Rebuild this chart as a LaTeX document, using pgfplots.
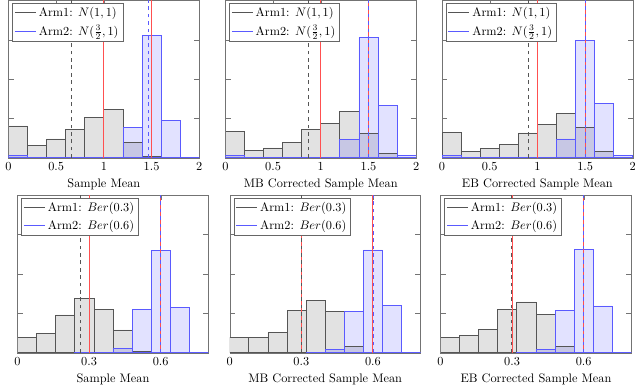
\documentclass[border=0pt]{standalone}
\usepackage{pgfplots}
\pgfplotsset{compat=1.18}

\definecolor{armgray}{RGB}{85,85,85}
\definecolor{armblue}{RGB}{90,90,255}
\definecolor{meanred}{RGB}{255,80,80}
\definecolor{grayfill}{RGB}{226,226,226}
\definecolor{bluefill}{RGB}{226,226,255}
\definecolor{bothfill}{RGB}{199,199,228}

\pgfplotsset{
  hist/.style={scale only axis, width=155pt, height=128pt,
    ymin=0, ymax=4, ytick={1,2,3}, yticklabels={,,},
    axis line style={black!55}, tick style={black!55},
    legend style={at={(0.02,0.985)}, anchor=north west, draw=black!60,
      inner sep=1.5pt, row sep=1.5pt},
    legend cell align=left},
  topx/.style={xmin=0, xmax=2, xtick={0,0.5,1,1.5,2}},
  botx/.style={xmin=0, xmax=0.8, xtick={0,0.3,0.6}},
  gfill/.style={ybar interval, fill=grayfill, draw=none},
  bfill/.style={ybar interval, fill=bluefill, draw=none},
  ofill/.style={ybar interval, fill=bothfill, draw=none},
  gline/.style={ybar interval, fill=none, draw=armgray, line width=0.6pt},
  bline/.style={ybar interval, fill=none, draw=armblue, line width=0.6pt},
  truemean/.style={meanred, line width=0.9pt},
  graymean/.style={armgray, dashed, line width=0.6pt},
  bluemean/.style={armblue, dashed, line width=0.6pt},
  grayleg/.style={armgray, line width=0.8pt},
  blueleg/.style={armblue, line width=0.8pt},
}

\begin{document}
\begin{tikzpicture}

% ---- top row: Gaussian arms ----
\begin{axis}[hist, topx, at={(2.4pt,182.4pt)}, xlabel={Sample Mean}]
  \addlegendimage{grayleg}
  \addlegendentry{Arm1: $N(1,1)$}
  \addlegendimage{blueleg}
  \addlegendentry{Arm2: $N(\frac{3}{2},1)$}
  \addplot[gfill] coordinates {(0,0.81) (0.2,0.31) (0.4,0.48) (0.6,0.72) (0.8,1.03) (1.0,1.23) (1.2,0.39) (1.4,0.03) (1.6,0) (1.8,0) (2,0)};
  \addplot[bfill] coordinates {(0,0.05) (0.2,0) (0.4,0) (0.6,0) (0.8,0) (1.0,0.02) (1.2,0.78) (1.4,3.11) (1.6,0.95) (1.8,0) (2,0)};
  \addplot[ofill] coordinates {(0,0.05) (0.2,0) (1.0,0.02) (1.2,0.39) (1.4,0.03) (1.6,0)};
  \addplot[gline] coordinates {(0,0.81) (0.2,0.31) (0.4,0.48) (0.6,0.72) (0.8,1.03) (1.0,1.23) (1.2,0.39) (1.4,0.03) (1.6,0) (1.8,0) (2,0)};
  \addplot[bline] coordinates {(0,0.05) (0.2,0) (0.4,0) (0.6,0) (0.8,0) (1.0,0.02) (1.2,0.78) (1.4,3.11) (1.6,0.95) (1.8,0) (2,0)};
  \addplot[truemean] coordinates {(1,0) (1,4)};
  \addplot[truemean] coordinates {(1.5,0) (1.5,4)};
  \addplot[graymean] coordinates {(0.66,0) (0.66,4)};
  \addplot[bluemean] coordinates {(1.47,0) (1.47,4)};
\end{axis}

\begin{axis}[hist, topx, at={(178.6pt,182.4pt)}, xlabel={MB Corrected Sample Mean}]
  \addlegendimage{grayleg}
  \addlegendentry{Arm1: $N(1,1)$}
  \addlegendimage{blueleg}
  \addlegendentry{Arm2: $N(\frac{3}{2},1)$}
  \addplot[gfill] coordinates {(0,0.68) (0.2,0.18) (0.4,0.25) (0.6,0.39) (0.8,0.71) (1.0,0.87) (1.2,1.18) (1.4,0.62) (1.6,0.12) (1.8,0) (2,0)};
  \addplot[bfill] coordinates {(0,0.05) (0.2,0) (0.4,0) (0.6,0) (0.8,0) (1.0,0) (1.2,0.46) (1.4,3.06) (1.6,1.33) (1.8,0.06) (2,0)};
  \addplot[ofill] coordinates {(0,0.05) (0.2,0) (1.2,0.46) (1.4,0.62) (1.6,0.12) (1.8,0)};
  \addplot[gline] coordinates {(0,0.68) (0.2,0.18) (0.4,0.25) (0.6,0.39) (0.8,0.71) (1.0,0.87) (1.2,1.18) (1.4,0.62) (1.6,0.12) (1.8,0) (2,0)};
  \addplot[bline] coordinates {(0,0.05) (0.2,0) (0.4,0) (0.6,0) (0.8,0) (1.0,0) (1.2,0.46) (1.4,3.06) (1.6,1.33) (1.8,0.06) (2,0)};
  \addplot[truemean] coordinates {(1,0) (1,4)};
  \addplot[truemean] coordinates {(1.5,0) (1.5,4)};
  \addplot[graymean] coordinates {(0.87,0) (0.87,4)};
  \addplot[bluemean] coordinates {(1.5,0) (1.5,4)};
\end{axis}

\begin{axis}[hist, topx, at={(354.6pt,182.4pt)}, xlabel={EB Corrected Sample Mean}]
  \addlegendimage{grayleg}
  \addlegendentry{Arm1: $N(1,1)$}
  \addlegendimage{blueleg}
  \addlegendentry{Arm2: $N(\frac{3}{2},1)$}
  \addplot[gfill] coordinates {(0,0.65) (0.2,0.17) (0.4,0.23) (0.6,0.33) (0.8,0.63) (1.0,0.85) (1.2,1.13) (1.4,0.78) (1.6,0.16) (1.8,0) (2,0)};
  \addplot[bfill] coordinates {(0,0.05) (0.2,0) (0.4,0) (0.6,0) (0.8,0) (1.0,0) (1.2,0.48) (1.4,2.98) (1.6,1.38) (1.8,0.06) (2,0)};
  \addplot[ofill] coordinates {(0,0.05) (0.2,0) (1.2,0.48) (1.4,0.78) (1.6,0.16) (1.8,0)};
  \addplot[gline] coordinates {(0,0.65) (0.2,0.17) (0.4,0.23) (0.6,0.33) (0.8,0.63) (1.0,0.85) (1.2,1.13) (1.4,0.78) (1.6,0.16) (1.8,0) (2,0)};
  \addplot[bline] coordinates {(0,0.05) (0.2,0) (0.4,0) (0.6,0) (0.8,0) (1.0,0) (1.2,0.48) (1.4,2.98) (1.6,1.38) (1.8,0.06) (2,0)};
  \addplot[truemean] coordinates {(1,0) (1,4)};
  \addplot[truemean] coordinates {(1.5,0) (1.5,4)};
  \addplot[graymean] coordinates {(0.9,0) (0.9,4)};
  \addplot[bluemean] coordinates {(1.5,0) (1.5,4)};
\end{axis}

% ---- bottom row: Bernoulli arms ----
\begin{axis}[hist, botx, at={(9.8pt,24pt)}, xlabel={Sample Mean}]
  \addlegendimage{grayleg}
  \addlegendentry{Arm1: $Ber(0.3)$}
  \addlegendimage{blueleg}
  \addlegendentry{Arm2: $Ber(0.6)$}
  \addplot[gfill] coordinates {(0,0.39) (0.08,0.5) (0.16,0.96) (0.24,1.37) (0.32,1.11) (0.40,0.58) (0.48,0.03) (0.56,0)};
  \addplot[bfill] coordinates {(0.24,0.01) (0.32,0.01) (0.40,0.12) (0.48,1.09) (0.56,2.59) (0.64,1.15) (0.72,0) (0.8,0)};
  \addplot[ofill] coordinates {(0.24,0.01) (0.32,0.01) (0.40,0.12) (0.48,0.03) (0.56,0)};
  \addplot[gline] coordinates {(0,0.39) (0.08,0.5) (0.16,0.96) (0.24,1.37) (0.32,1.11) (0.40,0.58) (0.48,0.03) (0.56,0)};
  \addplot[bline] coordinates {(0.24,0.01) (0.32,0.01) (0.40,0.12) (0.48,1.09) (0.56,2.59) (0.64,1.15) (0.72,0) (0.8,0)};
  \addplot[truemean] coordinates {(0.3,0) (0.3,4)};
  \addplot[truemean] coordinates {(0.6,0) (0.6,4)};
  \addplot[graymean] coordinates {(0.263,0) (0.263,4)};
  \addplot[bluemean] coordinates {(0.6,0) (0.6,4)};
\end{axis}

\begin{axis}[hist, botx, at={(182.2pt,24pt)}, xlabel={MB Corrected Sample Mean}]
  \addlegendimage{grayleg}
  \addlegendentry{Arm1: $Ber(0.3)$}
  \addlegendimage{blueleg}
  \addlegendentry{Arm2: $Ber(0.6)$}
  \addplot[gfill] coordinates {(0,0.39) (0.08,0.4) (0.16,0.51) (0.24,1.08) (0.32,1.34) (0.40,1.04) (0.48,0.17) (0.56,0)};
  \addplot[bfill] coordinates {(0.32,0.01) (0.40,0.09) (0.48,1.04) (0.56,2.61) (0.64,1.2) (0.72,0) (0.8,0)};
  \addplot[ofill] coordinates {(0.32,0.01) (0.40,0.09) (0.48,0.17) (0.56,0)};
  \addplot[gline] coordinates {(0,0.39) (0.08,0.4) (0.16,0.51) (0.24,1.08) (0.32,1.34) (0.40,1.04) (0.48,0.17) (0.56,0)};
  \addplot[bline] coordinates {(0.32,0.01) (0.40,0.09) (0.48,1.04) (0.56,2.61) (0.64,1.2) (0.72,0) (0.8,0)};
  \addplot[truemean] coordinates {(0.3,0) (0.3,4)};
  \addplot[truemean] coordinates {(0.6,0) (0.6,4)};
  \addplot[graymean] coordinates {(0.3,0) (0.3,4)};
  \addplot[bluemean] coordinates {(0.6,0) (0.6,4)};
\end{axis}

\begin{axis}[hist, botx, at={(353.4pt,24pt)}, xlabel={EB Corrected Sample Mean}]
  \addlegendimage{grayleg}
  \addlegendentry{Arm1: $Ber(0.3)$}
  \addlegendimage{blueleg}
  \addlegendentry{Arm2: $Ber(0.6)$}
  \addplot[gfill] coordinates {(0,0.39) (0.08,0.43) (0.16,0.6) (0.24,1.09) (0.32,1.29) (0.40,0.97) (0.48,0.17) (0.56,0)};
  \addplot[bfill] coordinates {(0.32,0.01) (0.40,0.09) (0.48,1.07) (0.56,2.62) (0.64,1.19) (0.72,0) (0.8,0)};
  \addplot[ofill] coordinates {(0.32,0.01) (0.40,0.09) (0.48,0.17) (0.56,0)};
  \addplot[gline] coordinates {(0,0.39) (0.08,0.43) (0.16,0.6) (0.24,1.09) (0.32,1.29) (0.40,0.97) (0.48,0.17) (0.56,0)};
  \addplot[bline] coordinates {(0.32,0.01) (0.40,0.09) (0.48,1.07) (0.56,2.62) (0.64,1.19) (0.72,0) (0.8,0)};
  \addplot[truemean] coordinates {(0.3,0) (0.3,4)};
  \addplot[truemean] coordinates {(0.6,0) (0.6,4)};
  \addplot[graymean] coordinates {(0.297,0) (0.297,4)};
  \addplot[bluemean] coordinates {(0.6,0) (0.6,4)};
\end{axis}

\end{tikzpicture}
\end{document}
